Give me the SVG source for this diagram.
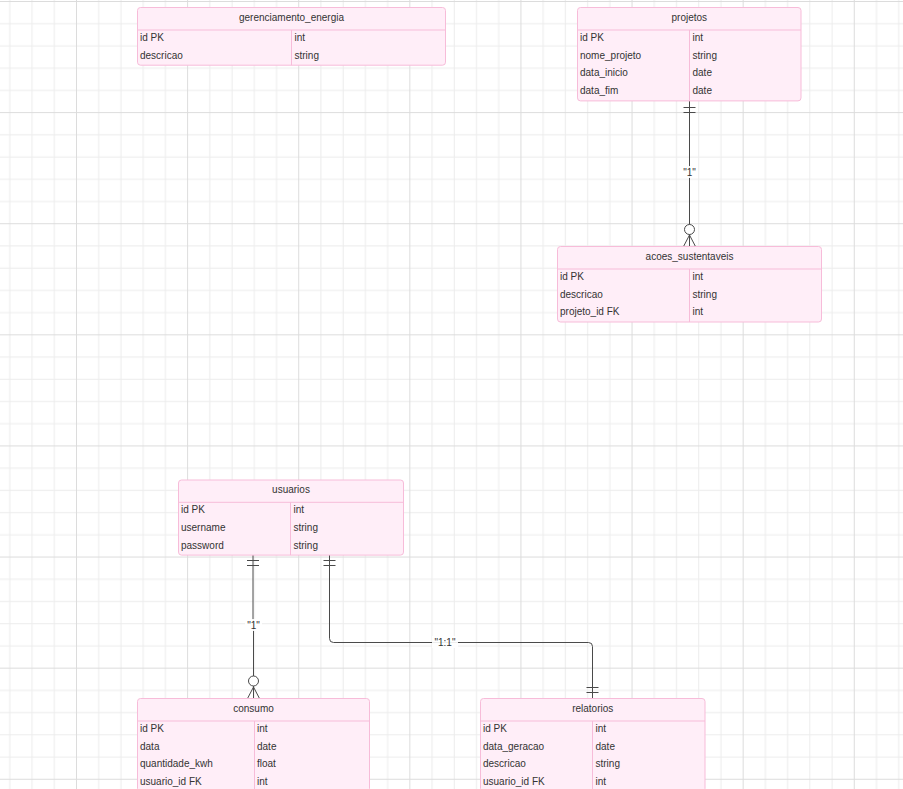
<svg xmlns="http://www.w3.org/2000/svg" width="903" height="789" viewBox="0 0 903 789">
  <defs>
    <!-- background grid: minor cells 22.22px, major every 5 cells -->
    <pattern id="grid" patternUnits="userSpaceOnUse" x="76" y="1" width="111.11" height="111.11">
      <rect x="22.22" y="0" width="1" height="111.11" fill="#ececec"/>
      <rect x="44.44" y="0" width="1" height="111.11" fill="#ececec"/>
      <rect x="66.67" y="0" width="1" height="111.11" fill="#ececec"/>
      <rect x="88.89" y="0" width="1" height="111.11" fill="#ececec"/>
      <rect x="0" y="22.22" width="111.11" height="1" fill="#ececec"/>
      <rect x="0" y="44.44" width="111.11" height="1" fill="#ececec"/>
      <rect x="0" y="66.67" width="111.11" height="1" fill="#ececec"/>
      <rect x="0" y="88.89" width="111.11" height="1" fill="#ececec"/>
      <rect x="0" y="0" width="1" height="111.11" fill="#dcdcdc"/>
      <rect x="0" y="0" width="111.11" height="1" fill="#dcdcdc"/>
    </pattern>
  </defs>
  <style>
    .box { fill: #ffeef8; stroke: #f7bcd9; stroke-width: 1; }
    .sep { stroke: #f7bcd9; stroke-width: 1; fill: none; }
    .title { font-family: "Liberation Sans", Arial, sans-serif; font-size: 10px; fill: #333; text-anchor: middle; }
    .attr { font-family: "Liberation Sans", Arial, sans-serif; font-size: 10px; fill: #333; }
    .rel { stroke: #4a4a4a; stroke-width: 1; fill: none; }
    .mark { stroke: #4a4a4a; stroke-width: 1; fill: none; }
    .circ { stroke: #4a4a4a; stroke-width: 1; fill: #fff; }
    .lblbg { fill: #fff; fill-opacity: 0.9; }
    .lbl { font-family: "Liberation Sans", Arial, sans-serif; font-size: 10px; fill: #333; text-anchor: middle; }
  </style>

  <rect x="0" y="0" width="903" height="789" fill="#fff"/>
  <rect x="0" y="0" width="903" height="789" fill="url(#grid)"/>

  <!-- relationships -->
  <g id="connectors">
    <!-- projetos one to zero-or-more acoes_sustentaveis -->
    <g id="rel-projetos-acoes">
      <line class="rel" x1="689.5" y1="101" x2="689.5" y2="246.5"/>
      <line class="mark" x1="683.5" y1="107.5" x2="695.5" y2="107.5"/>
      <line class="mark" x1="683.5" y1="112.5" x2="695.5" y2="112.5"/>
      <path class="mark" d="M689.5,235 L683.5,246.5 M689.5,235 L695.5,246.5"/>
      <circle class="circ" cx="689.5" cy="229.5" r="5"/>
      <rect class="lblbg" x="681" y="166" width="17" height="12"/>
      <text class="lbl" x="689.5" y="175.5">"1"</text>
    </g>
    <!-- usuarios one to zero-or-more consumo -->
    <g id="rel-usuarios-consumo">
      <line class="rel" x1="253" y1="555" x2="253" y2="620" stroke-width="2.5"/>
      <line class="rel" x1="253.5" y1="620" x2="253.5" y2="698.5"/>
      <line class="mark" x1="247" y1="560.5" x2="259" y2="560.5"/>
      <line class="mark" x1="247" y1="565.5" x2="259" y2="565.5"/>
      <path class="mark" d="M253.5,687 L247.5,698.5 M253.5,687 L259.5,698.5"/>
      <circle class="circ" cx="253.5" cy="681" r="5"/>
      <rect class="lblbg" x="245" y="619" width="17" height="12"/>
      <text class="lbl" x="253.5" y="628.5">"1"</text>
    </g>
    <!-- usuarios exactly one to exactly one relatorios -->
    <g id="rel-usuarios-relatorios">
      <path class="rel" d="M329.5,555 V638.5 Q329.5,642.5 333.5,642.5 H588.5 Q592.5,642.5 592.5,646.5 V698.5"/>
      <line class="mark" x1="323.5" y1="560.5" x2="335.5" y2="560.5"/>
      <line class="mark" x1="323.5" y1="565.5" x2="335.5" y2="565.5"/>
      <line class="mark" x1="586.5" y1="687.5" x2="598.5" y2="687.5"/>
      <line class="mark" x1="586.5" y1="692.5" x2="598.5" y2="692.5"/>
      <rect class="lblbg" x="432" y="636" width="26" height="12"/>
      <text class="lbl" x="445" y="645.5">"1:1"</text>
    </g>
  </g>

  <!-- entities -->
  <g id="gerenciamento_energia">
    <rect class="box" x="137.5" y="7.5" width="308" height="57.7" rx="3"/>
    <line class="sep" x1="137.5" y1="30" x2="445.5" y2="30"/>
    <line class="sep" x1="291.5" y1="30" x2="291.5" y2="65.2"/>
    <text class="title" x="291.5" y="21">gerenciamento_energia</text>
    <text class="attr" x="140" y="41">id PK</text>
    <text class="attr" x="294.5" y="41">int</text>
    <text class="attr" x="140" y="58.6">descricao</text>
    <text class="attr" x="294.5" y="58.6">string</text>
  </g>

  <g id="projetos">
    <rect class="box" x="577.5" y="7.5" width="223.5" height="93.4" rx="3"/>
    <line class="sep" x1="577.5" y1="30" x2="801" y2="30"/>
    <line class="sep" x1="689.5" y1="30" x2="689.5" y2="100.9"/>
    <text class="title" x="689.3" y="21">projetos</text>
    <text class="attr" x="580" y="41">id PK</text>
    <text class="attr" x="692.5" y="41">int</text>
    <text class="attr" x="580" y="58.7">nome_projeto</text>
    <text class="attr" x="692.5" y="58.7">string</text>
    <text class="attr" x="580" y="76.4">data_inicio</text>
    <text class="attr" x="692.5" y="76.4">date</text>
    <text class="attr" x="580" y="94.1">data_fim</text>
    <text class="attr" x="692.5" y="94.1">date</text>
  </g>

  <g id="acoes_sustentaveis">
    <rect class="box" x="557.5" y="246.5" width="264" height="75.5" rx="3"/>
    <line class="sep" x1="557.5" y1="269" x2="821.5" y2="269"/>
    <line class="sep" x1="689.5" y1="269" x2="689.5" y2="322"/>
    <text class="title" x="689.5" y="260">acoes_sustentaveis</text>
    <text class="attr" x="560" y="280">id PK</text>
    <text class="attr" x="692.5" y="280">int</text>
    <text class="attr" x="560" y="297.7">descricao</text>
    <text class="attr" x="692.5" y="297.7">string</text>
    <text class="attr" x="560" y="315.4">projeto_id FK</text>
    <text class="attr" x="692.5" y="315.4">int</text>
  </g>

  <g id="usuarios">
    <rect class="box" x="178.5" y="480" width="225" height="75.1" rx="3"/>
    <line class="sep" x1="178.5" y1="502.3" x2="403.5" y2="502.3"/>
    <line class="sep" x1="290.5" y1="502.3" x2="290.5" y2="555.1"/>
    <text class="title" x="291" y="493">usuarios</text>
    <text class="attr" x="181" y="513.3">id PK</text>
    <text class="attr" x="293.5" y="513.3">int</text>
    <text class="attr" x="181" y="531">username</text>
    <text class="attr" x="293.5" y="531">string</text>
    <text class="attr" x="181" y="548.6">password</text>
    <text class="attr" x="293.5" y="548.6">string</text>
  </g>

  <g id="consumo">
    <rect class="box" x="137.5" y="698.5" width="232" height="93" rx="3"/>
    <line class="sep" x1="137.5" y1="721" x2="369.5" y2="721"/>
    <line class="sep" x1="254.5" y1="721" x2="254.5" y2="791.5"/>
    <text class="title" x="253.5" y="711.8">consumo</text>
    <text class="attr" x="140" y="732">id PK</text>
    <text class="attr" x="257" y="732">int</text>
    <text class="attr" x="140" y="749.7">data</text>
    <text class="attr" x="257" y="749.7">date</text>
    <text class="attr" x="140" y="767.4">quantidade_kwh</text>
    <text class="attr" x="257" y="767.4">float</text>
    <text class="attr" x="140" y="785.1">usuario_id FK</text>
    <text class="attr" x="257" y="785.1">int</text>
  </g>

  <g id="relatorios">
    <rect class="box" x="480.5" y="698.5" width="224.5" height="93" rx="3"/>
    <line class="sep" x1="480.5" y1="721" x2="705" y2="721"/>
    <line class="sep" x1="592.5" y1="721" x2="592.5" y2="791.5"/>
    <text class="title" x="592.7" y="711.8">relatorios</text>
    <text class="attr" x="483" y="732">id PK</text>
    <text class="attr" x="595.5" y="732">int</text>
    <text class="attr" x="483" y="749.7">data_geracao</text>
    <text class="attr" x="595.5" y="749.7">date</text>
    <text class="attr" x="483" y="767.4">descricao</text>
    <text class="attr" x="595.5" y="767.4">string</text>
    <text class="attr" x="483" y="785.1">usuario_id FK</text>
    <text class="attr" x="595.5" y="785.1">int</text>
  </g>
</svg>
